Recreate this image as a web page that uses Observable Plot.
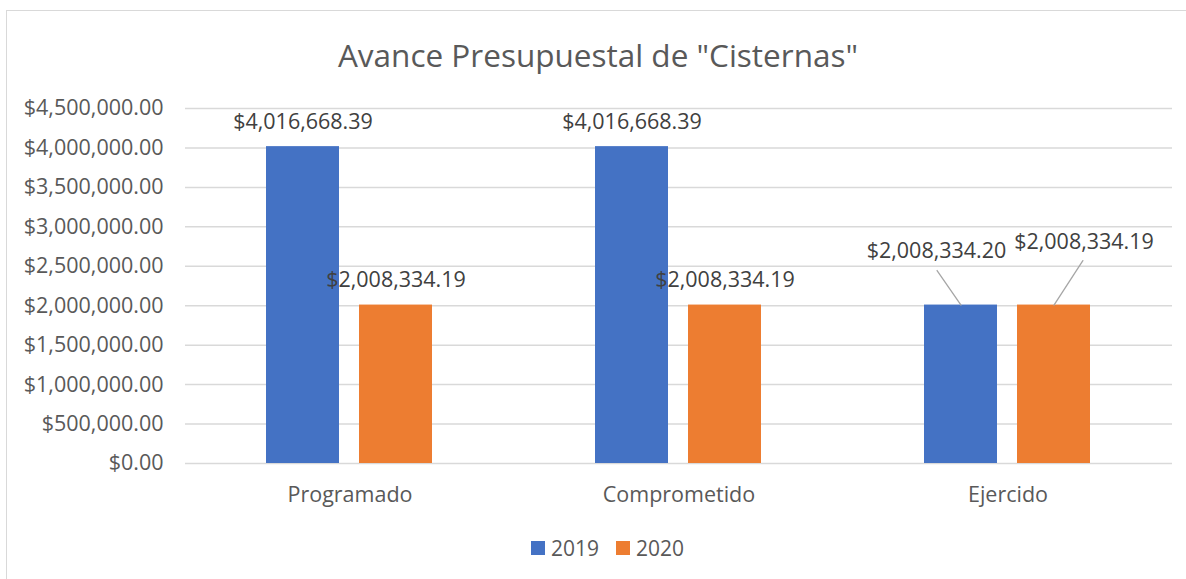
<!DOCTYPE html>
<html><head><meta charset="utf-8">
<script src="https://cdn.jsdelivr.net/npm/d3@7"></script>
<script src="https://cdn.jsdelivr.net/npm/@observablehq/plot@0.6"></script>
<style>
html,body{margin:0;padding:0;overflow:hidden;background:#fff;width:1186px;height:579px;}
#frame{position:absolute;left:6px;top:10px;width:1200px;height:600px;border-left:1.5px solid #d9d9d9;border-top:1.5px solid #d9d9d9;}
#title{position:absolute;left:0;width:1196px;top:33px;text-align:center;font-family:"Open Sans";font-size:31.5px;color:#595959;line-height:44px;white-space:nowrap}
#chart{position:absolute;left:0;top:80px}
#chart svg text{font-size:21.5px}
#legend{position:absolute;top:536px;left:531px;display:flex;align-items:center;font-family:"Open Sans";font-size:21px;color:#595959;line-height:24px}
#legend .item{display:flex;align-items:center;margin-right:17px}
#legend .sw{width:14px;height:14px;margin-right:6px}
</style></head>
<body>
<div id="frame"></div>
<div id="title">Avance Presupuestal de "Cisternas"</div>
<div id="chart"></div>
<div id="legend"></div>
<script>
const categories = ["Programado", "Comprometido", "Ejercido"];
const seriesNames = ["2019", "2020"];
const values2019 = [4016668.39, 4016668.39, 2008334.20];
const values2020 = [2008334.19, 2008334.19, 2008334.19];
const yTicks = [0, 500000, 1000000, 1500000, 2000000, 2500000, 3000000, 3500000, 4000000, 4500000];
const colors = ["#4472C4", "#ED7D31"];

const fmt = d3.format("$,.2f");
const data = [];
categories.forEach((c, i) => {
  data.push({category: c, series: seriesNames[0], value: values2019[i]});
  data.push({category: c, series: seriesNames[1], value: values2020[i]});
});

const lineShape = {draw(context, l) { context.moveTo(0, 0); context.lineTo(0, -l); }};
const isE = (s) => (d) => d.category === "Ejercido" && d.series === s;

const plot = Plot.plot({
  width: 1186,
  height: 440,
  marginLeft: 185,
  marginRight: 14,
  marginTop: 28,
  marginBottom: 57,
  style: {fontFamily: "Open Sans", fontSize: "21.5px", color: "#595959", background: "transparent", overflow: "visible"},
  fx: {domain: categories, padding: 0, label: null, tickSize: 0, tickPadding: 23, axis: "bottom"},
  x: {domain: seriesNames, paddingInner: 0.21, paddingOuter: 0.87, axis: null},
  y: {domain: [0, 4500000], ticks: yTicks, tickFormat: fmt, tickSize: 0, tickPadding: 22, label: null},
  color: {domain: seriesNames, range: colors},
  marks: [
    Plot.ruleY(yTicks, {stroke: "#d9d9d9", strokeWidth: 1.5}),
    Plot.barY(data, {fx: "category", x: "series", y: "value", fill: "series"}),
    Plot.text(data, {filter: d => d.category !== "Ejercido", fx: "category", x: "series", y: "value", text: d => fmt(d.value), dy: -25, fill: "#404040", fontSize: 21.5}),
    Plot.text(data, {filter: isE("2019"), fx: "category", x: "series", y: "value", text: d => fmt(d.value), dx: -24.5, dy: -53.6, fill: "#404040", fontSize: 21.5}),
    Plot.text(data, {filter: isE("2020"), fx: "category", x: "series", y: "value", text: d => fmt(d.value), dx: 30, dy: -62.6, fill: "#404040", fontSize: 21.5}),
    Plot.vector(data, {filter: isE("2019"), fx: "category", x: "series", y: "value", length: 42, rotate: -34.7, anchor: "start", stroke: "#a6a6a6", strokeWidth: 1.3, shape: lineShape}),
    Plot.vector(data, {filter: isE("2020"), fx: "category", x: "series", y: "value", length: 53, rotate: 33, anchor: "start", stroke: "#a6a6a6", strokeWidth: 1.3, shape: lineShape})
  ]
});
document.getElementById("chart").appendChild(plot);

const legend = document.getElementById("legend");
seriesNames.forEach((s, i) => {
  const item = document.createElement("div");
  item.className = "item";
  const sw = document.createElement("div");
  sw.className = "sw";
  sw.style.background = colors[i];
  const t = document.createElement("span");
  t.textContent = s;
  item.appendChild(sw);
  item.appendChild(t);
  legend.appendChild(item);
});
</script>
</body></html>
